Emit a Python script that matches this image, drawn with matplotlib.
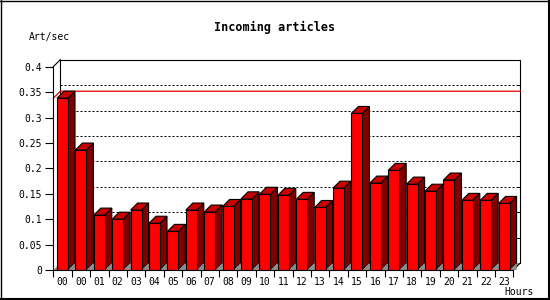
import matplotlib
matplotlib.use("Agg")
import matplotlib.pyplot as plt
from matplotlib.patches import Polygon
from matplotlib.lines import Line2D

# ---- data ----
hour_labels = ["00", "00", "01", "02", "03", "04", "05", "06", "07", "08", "09", "10",
               "11", "12", "13", "14", "15", "16", "17", "18", "19", "20", "21", "22", "23"]
art_per_sec = [0.338, 0.236, 0.108, 0.100, 0.118, 0.092, 0.076, 0.118, 0.114, 0.125,
               0.140, 0.149, 0.147, 0.139, 0.123, 0.161, 0.308, 0.171, 0.196, 0.169,
               0.155, 0.177, 0.137, 0.137, 0.131]
y_ticks = [0, 0.05, 0.1, 0.15, 0.2, 0.25, 0.3, 0.35, 0.4]
y_tick_labels = ["0", "0.05", "0.1", "0.15", "0.2", "0.25", "0.3", "0.35", "0.4"]
title = "Incoming articles"
y_title = "Art/sec"
x_title = "Hours"

FONT = "DejaVu Sans Mono"
W, H = 550, 300
fig = plt.figure(figsize=(5.5, 3), dpi=100)
fig.patch.set_facecolor("white")

# axes front area in pixels
L, R, B, T = 53.3, 513.3, 270.0, 66.7
ax = fig.add_axes([L / W, (H - B) / H, (R - L) / W, (B - T) / H])
n = len(art_per_sec)
ymax = 0.4
ax.set_xlim(0, n)
ax.set_ylim(0, ymax)
ax.set_facecolor("none")

px_x = (R - L) / n          # pixels per x unit
px_y = (B - T) / ymax       # pixels per y unit
DEPTH = 7.0
dx = DEPTH / px_x
dy = DEPTH / px_y
half = 5.5 / px_x

# floor
ax.add_patch(Polygon([(0, 0), (n, 0), (n + dx, dy), (dx, dy)], closed=True,
                     facecolor="#8c8c8c", edgecolor="none", zorder=1, clip_on=False))
# back plane grid
for v in y_ticks[1:-1]:
    ax.add_line(Line2D([dx, n + dx], [v + dy, v + dy], color="black", lw=0.72,
                       linestyle=(0, (2, 2)), zorder=1.5, clip_on=False))
    ax.add_line(Line2D([n + dx - 3 / px_x, n + dx], [v + dy, v + dy], color="black",
                       lw=0.72, zorder=1.5, clip_on=False))
# back plane edges
ax.add_line(Line2D([dx, dx, n + dx, n + dx], [dy, ymax + dy, ymax + dy, dy],
                   color="black", lw=0.8, zorder=1.6, clip_on=False))
ax.add_line(Line2D([0, dx], [ymax, ymax + dy], color="black", lw=0.8, zorder=1.6, clip_on=False))
ax.add_line(Line2D([n, n + dx], [0, dy], color="black", lw=0.8, zorder=1.6, clip_on=False))

# red max line
vmax = max(art_per_sec)
ax.add_line(Line2D([0, dx, n + dx], [vmax, vmax + dy, vmax + dy], color="#e00000",
                   lw=0.9, zorder=2, clip_on=False))

# bars
xs = [i + 0.5 for i in range(n)]
ax.bar(xs, art_per_sec, width=2 * half, color="#ff0000", edgecolor="black",
       linewidth=0.8, zorder=5)
for xc, v in zip(xs, art_per_sec):
    x0, x1 = xc - half, xc + half
    ax.add_patch(Polygon([(x1, 0), (x1 + dx, dy), (x1 + dx, v + dy), (x1, v)], closed=True,
                         facecolor="#800000", edgecolor="black", lw=0.8, zorder=4,
                         clip_on=False))
    ax.add_patch(Polygon([(x0, v), (x1, v), (x1 + dx, v + dy), (x0 + dx, v + dy)], closed=True,
                         facecolor="#c80000", edgecolor="black", lw=0.8, zorder=4,
                         clip_on=False))
    ax.add_patch(Polygon([(x1, 0), (x1 + dx, dy), (x1 + dx, 0)], closed=True,
                         facecolor="#8c8c8c", edgecolor="none", zorder=4.5, clip_on=False))

# spines / ticks
for s in ["top", "right"]:
    ax.spines[s].set_visible(False)
for s in ["left", "bottom"]:
    ax.spines[s].set_linewidth(0.8)
    ax.spines[s].set_zorder(6)
ax.set_yticks(y_ticks)
ax.set_yticklabels(y_tick_labels, fontfamily=FONT, fontsize=7)
ax.tick_params(axis="y", direction="out", length=6, width=0.8, pad=2)
ax.set_xticks(xs)
ax.set_xticklabels(hour_labels, fontfamily=FONT, fontsize=7)
ax.set_xticks(list(range(n + 1)), minor=True)
ax.tick_params(axis="x", which="major", length=0, pad=5)
ax.tick_params(axis="x", which="minor", direction="out", length=5, width=0.8)

# texts
fig.text(275 / W, 1 - 27 / H, title, ha="center", va="center", fontfamily=FONT,
         fontsize=8.5, fontweight="bold")
fig.text(29 / W, 1 - 37 / H, y_title, ha="left", va="center", fontfamily=FONT, fontsize=7)
fig.text(534 / W, 1 - 292 / H, x_title, ha="right", va="center", fontfamily=FONT, fontsize=7)

# outer frame
tf = fig.transFigure
fig.add_artist(Line2D([0.5 / W, 0.5 / W], [0, 1], color="black", lw=1, transform=tf))
fig.add_artist(Line2D([0, 1], [1 - 0.5 / H, 1 - 0.5 / H], color="black", lw=1, transform=tf))
fig.add_artist(Line2D([548.5 / W, 548.5 / W], [0, 1], color="black", lw=1.5, transform=tf))
fig.add_artist(Line2D([0, 1], [1 - 298.5 / H, 1 - 298.5 / H], color="black", lw=1.5, transform=tf))

fig.savefig("out.png", dpi=100)
